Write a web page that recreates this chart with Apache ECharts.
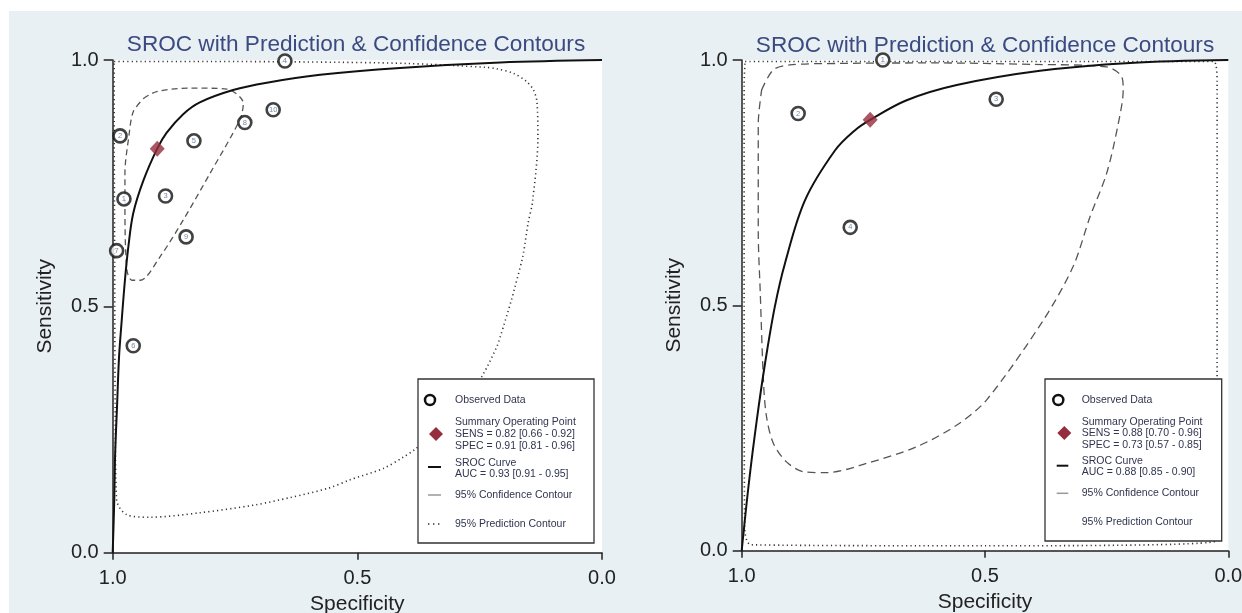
<!DOCTYPE html>
<html>
<head>
<meta charset="utf-8">
<script src="https://cdn.jsdelivr.net/npm/echarts@6/dist/echarts.min.js"></script>
<style>
html,body{margin:0;padding:0;background:#fff;}
#bg{position:absolute;left:9px;top:11px;right:0;bottom:0;background:#e8f0f3;}
#chart{position:absolute;left:0;top:0;width:1242px;height:613px;}
</style>
</head>
<body>
<div id="bg"></div>
<div id="chart"></div>
<script>
// ---------- DATA ----------
const titleText = 'SROC with Prediction & Confidence Contours';
const tickValues = [0, 0.5, 1];

// Left panel
const leftStudies = ['1','2','3','4','5','6','7','8','9','10'];
const leftSpec = [0.977,0.985,0.892,0.648,0.834,0.958,0.992,0.730,0.850,0.672];
const leftSens = [0.718,0.846,0.724,0.998,0.836,0.420,0.613,0.873,0.641,0.899];
const leftSummary = [0.909, 0.820]; // [spec, sens]
const leftSroc = [[1.0,0.0],[0.997,0.1],[0.995,0.2],[0.991,0.3],[0.987,0.398],[0.982,0.466],[0.975,0.553],
  [0.968,0.621],[0.958,0.689],[0.937,0.756],[0.909,0.820],[0.890,0.852],[0.856,0.890],[0.822,0.914],
  [0.754,0.939],[0.685,0.954],[0.576,0.970],[0.413,0.984],[0.208,0.995],[0.0,1.0]];
const leftConf = [[0.937,0.922],[0.910,0.936],[0.842,0.943],[0.767,0.941],[0.733,0.912],[0.740,0.879],
  [0.801,0.770],[0.856,0.675],[0.903,0.601],[0.944,0.553],[0.961,0.553],[0.971,0.574],[0.975,0.702],
  [0.975,0.770],[0.967,0.845],[0.958,0.895],[0.937,0.922]];
const leftPred = [[0.997,0.997],[0.8,0.997],[0.6,0.996],[0.4,0.993],[0.236,0.985],[0.215,0.982],[0.181,0.973],
  [0.154,0.956],[0.140,0.939],[0.133,0.915],[0.131,0.842],[0.142,0.712],[0.151,0.669],[0.162,0.601],
  [0.178,0.539],[0.185,0.513],[0.208,0.438],[0.215,0.418],[0.246,0.357],[0.30,0.280],[0.382,0.210],
  [0.406,0.194],[0.447,0.171],[0.515,0.148],[0.559,0.131],[0.637,0.112],[0.709,0.097],[0.822,0.081],
  [0.924,0.072],[0.971,0.077],[0.992,0.107],[0.995,0.3],[0.996,0.6],[0.997,0.9],[0.997,0.997]];
const leftLegend = ['Observed Data','Summary Operating Point','SENS = 0.82 [0.66 - 0.92]','SPEC = 0.91 [0.81 - 0.96]',
  'SROC Curve','AUC = 0.93 [0.91 - 0.95]','95% Confidence Contour','95% Prediction Contour'];

// Right panel
const rightStudies = ['1','2','3','4'];
const rightSpec = [0.710,0.884,0.477,0.777];
const rightSens = [1.000,0.891,0.920,0.659];
const rightSummary = [0.736, 0.878];
const rightSroc = [[1.0,0.0],[0.985,0.14],[0.969,0.266],[0.952,0.382],[0.932,0.497],[0.911,0.586],
  [0.870,0.714],[0.808,0.816],[0.767,0.857],[0.736,0.878],[0.661,0.918],[0.558,0.949],[0.387,0.978],
  [0.202,0.994],[0.0,1.0]];
const rightConf = [[0.959,0.939],[0.935,0.980],[0.901,0.990],[0.80,0.993],[0.6,0.994],[0.4,0.991],
  [0.25,0.986],[0.219,0.966],[0.216,0.939],[0.226,0.871],[0.25,0.769],[0.284,0.681],[0.319,0.579],
  [0.380,0.470],[0.497,0.307],[0.558,0.256],[0.640,0.212],[0.743,0.178],[0.825,0.159],[0.873,0.161],
  [0.908,0.181],[0.935,0.219],[0.949,0.273],[0.955,0.340],[0.962,0.530],[0.966,0.650],[0.966,0.870],
  [0.959,0.939]];
const rightPred = [[0.993,0.997],[0.7,0.997],[0.3,0.997],[0.03,0.997],[0.023,0.95],[0.023,0.5],[0.025,0.02],
  [0.5,0.01],[0.98,0.012],[0.994,0.05],[0.995,0.5],[0.995,0.95],[0.993,0.997]];
const rightLegend = ['Observed Data','Summary Operating Point','SENS = 0.88 [0.70 - 0.96]','SPEC = 0.73 [0.57 - 0.85]',
  'SROC Curve','AUC = 0.88 [0.85 - 0.90]','95% Confidence Contour','95% Prediction Contour'];

// ---------- CHART ----------
const FONT = '"Liberation Sans", Arial, Helvetica, sans-serif';
const chart = echarts.init(document.getElementById('chart'), null, {renderer:'canvas'});

function mkX(idx){
  return {gridIndex: idx, type:'value', min:0, max:1, interval:0.5, inverse:true,
    name:'Specificity', nameLocation:'middle', nameGap:35,
    nameTextStyle:{fontFamily:FONT, fontSize:21, color:'#222'},
    axisLine:{onZero:false, lineStyle:{color:'#222', width:1.5}},
    axisTick:{length:7, lineStyle:{color:'#222', width:1.5}},
    splitLine:{show:false},
    axisLabel:{fontFamily:FONT, fontSize:20, color:'#222', margin:16, formatter:v=>v.toFixed(1)}};
}
function mkY(idx){
  return {gridIndex: idx, type:'value', min:0, max:1, interval:0.5,
    name:'Sensitivity', nameLocation:'middle', nameGap:57,
    nameTextStyle:{fontFamily:FONT, fontSize:21, color:'#222'},
    axisLine:{onZero:false, lineStyle:{color:'#222', width:1.5}},
    axisTick:{length:9, lineStyle:{color:'#222', width:1.5}},
    splitLine:{show:false},
    axisLabel:{fontFamily:FONT, fontSize:20, color:'#222', margin:14, formatter:v=>v.toFixed(1)}};
}
function panelSeries(idx, studies, spec, sens, summary, sroc, conf, pred, confDash){
  return [
    {type:'line', xAxisIndex:idx, yAxisIndex:idx, data:pred, smooth:0.3, showSymbol:false, silent:true,
      lineStyle:{color:'#333', width:1.6, type:[1.2,3.2]}, z:2},
    {type:'line', xAxisIndex:idx, yAxisIndex:idx, data:conf, smooth:0.3, showSymbol:false, silent:true,
      lineStyle:{color:'#555', width:1.3, type:confDash}, z:3},
    {type:'line', xAxisIndex:idx, yAxisIndex:idx, data:sroc, smooth:0.35, showSymbol:false, silent:true,
      lineStyle:{color:'#111', width:2}, z:4},
    {type:'scatter', xAxisIndex:idx, yAxisIndex:idx,
      data:studies.map((s,i)=>({name:s, value:[spec[i], sens[i]]})),
      symbol:'circle', symbolSize:13,
      itemStyle:{color:'#fff', borderColor:'#111', borderWidth:2.6},
      label:{show:true, position:'inside', formatter:p=>p.name, fontSize:7.5, fontFamily:FONT, color:'#4e6a94'}, z:5},
    {type:'scatter', xAxisIndex:idx, yAxisIndex:idx, data:[summary], symbol:'diamond', symbolSize:[15,16],
      itemStyle:{color:'#952d3c'}, z:6}
  ];
}

function legendGraphics(box, symX, lineX1, lineX2, textX, ys, texts, showPredIcon){
  const g = [];
  const ts = {fontFamily:FONT, fontSize:10.5, fill:'#30354f', textVerticalAlign:'middle'};
  g.push({type:'rect', shape:{x:box[0], y:box[1], width:box[2], height:box[3]},
    style:{fill:'#fff', stroke:'#333', lineWidth:1.3}, z:100});
  g.push({type:'circle', shape:{cx:symX, cy:ys[0], r:5}, style:{fill:'#fff', stroke:'#111', lineWidth:2.5}, z:101});
  g.push({type:'polygon', shape:{points:[[symX+6,ys[2]-7],[symX+13,ys[2]],[symX+6,ys[2]+7],[symX-1,ys[2]]]},
    style:{fill:'#952d3c'}, z:101});
  g.push({type:'line', shape:{x1:lineX1, y1:ys[5], x2:lineX2, y2:ys[5]}, style:{stroke:'#111', lineWidth:2}, z:101});
  g.push({type:'line', shape:{x1:lineX1, y1:ys[7], x2:lineX2, y2:ys[7]}, style:{stroke:'#999', lineWidth:1.5}, z:101});
  if (showPredIcon){
    g.push({type:'line', shape:{x1:lineX1, y1:ys[9], x2:lineX2, y2:ys[9]},
      style:{stroke:'#333', lineWidth:1.6, lineDash:[1.4,3.6]}, z:101});
  }
  const textY = [ys[0], ys[1], ys[2]+0.3, ys[3], ys[4], ys[6], ys[7], ys[9]];
  texts.forEach((t,i)=>{
    g.push({type:'text', x:textX, y:textY[i], style:Object.assign({text:t}, ts), z:102});
  });
  return g;
}

// ys: [observed, summaryL1, summaryL2(diamond), summaryL3, srocL1, srocIcon, aucL2 , conf, -, pred]
const leftYs  = [400, 422.3, 434, 445.7, 462.7, 467, 474, 495, 0, 524];
const rightYs = [400, 421.7, 433, 444.7, 461, 465.7, 472.3, 493.3, 0, 521.7];

const option = {
  backgroundColor:'transparent',
  animation:false,
  title:[
    {text:titleText, left:351, top:28, textAlign:'center',
      textStyle:{fontFamily:FONT, fontSize:22.6, fontWeight:'normal', color:'#3b4a80'}},
    {text:titleText, left:980, top:29, textAlign:'center',
      textStyle:{fontFamily:FONT, fontSize:22.6, fontWeight:'normal', color:'#3b4a80'}}
  ],
  grid:[
    {left:112.7, top:60, width:489.3, height:492.7, show:true, backgroundColor:'#fff', borderWidth:0,
      containLabel:false, outerBoundsMode:'none'},
    {left:741.7, top:60, width:486.6, height:490.7, show:true, backgroundColor:'#fff', borderWidth:0,
      containLabel:false, outerBoundsMode:'none'}
  ],
  xAxis:[mkX(0), mkX(1)],
  yAxis:[mkY(0), mkY(1)],
  series:[].concat(
    panelSeries(0, leftStudies, leftSpec, leftSens, leftSummary, leftSroc, leftConf, leftPred, [6,4]),
    panelSeries(1, rightStudies, rightSpec, rightSens, rightSummary, rightSroc, rightConf, rightPred, [8,5])
  ),
  graphic:[].concat(
    legendGraphics([418,379,176,164], 430, 428, 441, 455, leftYs, leftLegend, true),
    legendGraphics([1045,379,176.7,162], 1058.3, 1056.7, 1068.3, 1081.7, rightYs, rightLegend, false)
  )
};
chart.setOption(option);
</script>
</body>
</html>
